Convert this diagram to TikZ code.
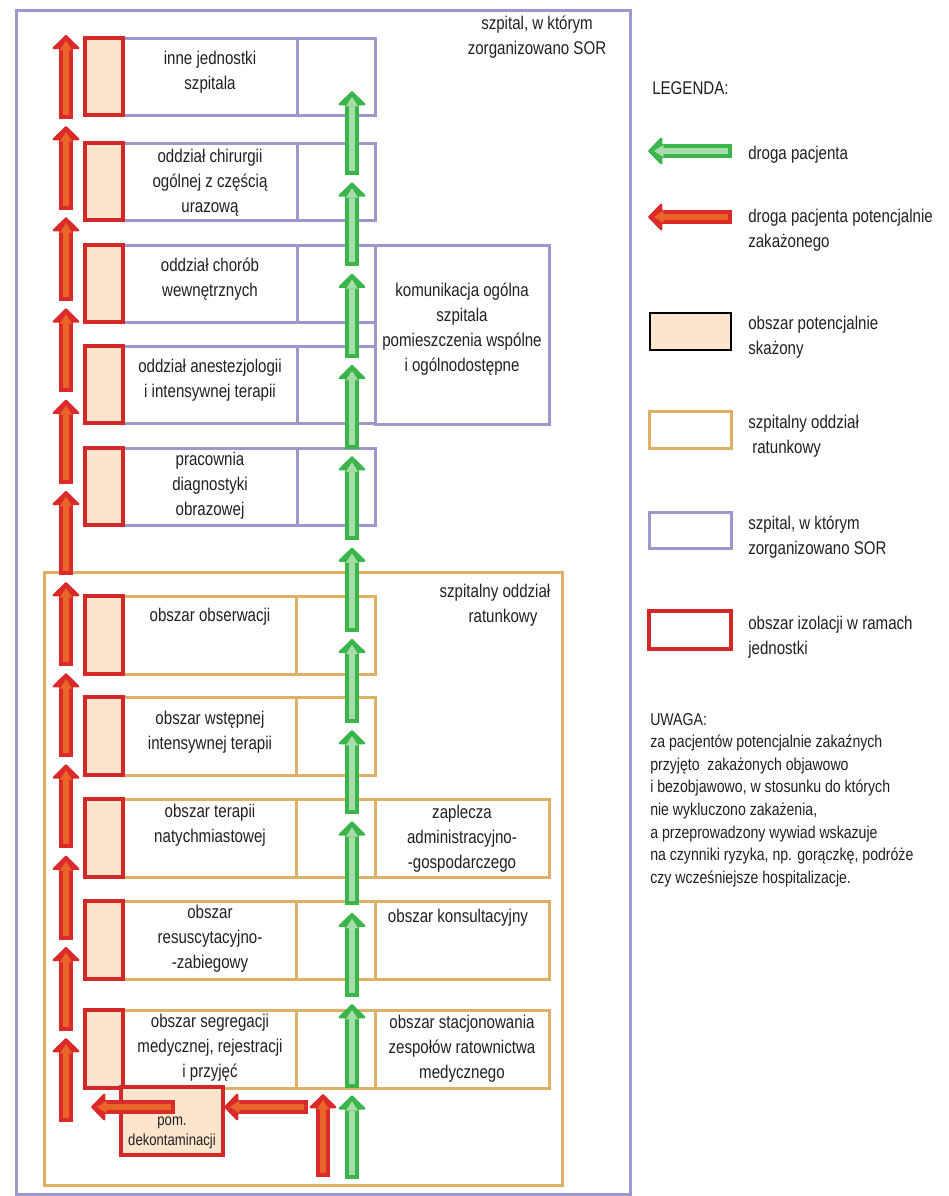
\documentclass[tikz,border=0pt]{standalone}
\usepackage{fontspec}
\setmainfont{Liberation Sans}[FakeStretch=0.82]
\usepackage{tikz}
\usetikzlibrary{arrows.meta}
\usetikzlibrary{positioning}

\definecolor{hospblue}{RGB}{155,153,204}
\definecolor{sortan}{RGB}{222,176,102}
\definecolor{isored}{RGB}{212,40,40}
\definecolor{peach}{RGB}{253,228,204}
\definecolor{flowred}{RGB}{218,42,42}
\definecolor{floworange}{RGB}{234,102,40}
\definecolor{flowgreen}{RGB}{58,181,74}
\definecolor{flowlight}{RGB}{168,220,170}
\definecolor{txt}{RGB}{35,31,32}

\begin{document}
\begin{tikzpicture}[x=0.75pt,y=-0.75pt,
		hosp line/.style={draw=hospblue,line width=2.25pt},
		sor line/.style={draw=sortan,line width=2.25pt},
		iso box/.style={draw=isored,fill=peach,line width=3pt},
		lbl/.style={font=\fontsize{13.8pt}{18.75pt}\selectfont,align=center,text=txt,inner sep=0pt},
		legend text/.style={font=\fontsize{13.8pt}{18.75pt}\selectfont,align=left,text=txt,inner sep=0pt,anchor=west},
		red out/.style={draw=flowred,line width=10.5pt,-{Triangle[width=22pt,length=11pt,line width=1.5pt,round]}},
		red in/.style={draw=floworange,line width=3.8pt,shorten >=4.5pt,shorten <=3pt,-{Triangle[width=9pt,length=7pt,line width=0.3pt]}},
		green out/.style={draw=flowgreen,line width=10.5pt,-{Triangle[width=22pt,length=11pt,line width=1.5pt,round]}},
		green in/.style={draw=flowlight,line width=3.8pt,shorten >=4.5pt,shorten <=3pt,-{Triangle[width=9pt,length=7pt,line width=0.3pt]}}]

		\useasboundingbox (0,0) rectangle (949,1196);

		\draw[hosp line] (16,10) rectangle (630,1194);
		\draw[sor line] (44,572) rectangle (562,1185);

		\foreach \t in {38,143,245,346,448}{
			\draw[hosp line] (85,\t) rectangle (375,\t+77);
			\draw[hosp line] (297,\t) -- (297,\t+77);
			\filldraw[iso box] (85,\t) rectangle (123,\t+77);
		}
		\draw[hosp line] (375,245) rectangle (549,424);

		\foreach \t in {596,697}{
			\draw[sor line] (85,\t) rectangle (375,\t+78);
			\draw[sor line] (296,\t) -- (296,\t+78);
			\filldraw[iso box] (85,\t) rectangle (123,\t+78);
		}
		\foreach \t in {799,901,1010}{
			\draw[sor line] (85,\t) rectangle (549,\t+78);
			\draw[sor line] (296,\t) -- (296,\t+78);
			\draw[sor line] (375,\t) -- (375,\t+78);
			\filldraw[iso box] (85,\t) rectangle (123,\t+78);
		}
		\filldraw[iso box] (121,1087) rectangle (223,1155);

		\node[lbl] (hosptitle) at (537,37) {szpital, w którym\\zorganizowano SOR};
		\node[lbl] (inne) at (210,72) {inne jednostki\\szpitala};
		\node[lbl] (chir) at (210,183) {oddział chirurgii\\ogólnej z częścią\\urazową};
		\node[lbl] (chor) at (210,279) {oddział chorób\\wewnętrznych};
		\node[lbl] (anest) at (210,380) {oddział anestezjologii\\i intensywnej terapii};
		\node[lbl] (diag) at (210,486) {pracownia\\diagnostyki\\obrazowej};
		\node[lbl] (komun) at (462,329) {komunikacja ogólna\\szpitala\\pomieszczenia wspólne\\i ogólnodostępne};

		\node[lbl] (sortitle) at (495,605) {szpitalny oddział\\\hspace*{12pt}ratunkowy};
		\node[lbl] (obs) at (210,617) {obszar obserwacji};
		\node[lbl] (wstep) at (210,732) {obszar wstępnej\\intensywnej terapii};
		\node[lbl] (terap) at (210,825) {obszar terapii\\natychmiastowej};
		\node[lbl] (zapl) at (462,839) {zaplecza\\administracyjno-\\-gospodarczego};
		\node[lbl] (resus) at (210,939) {obszar\\resuscytacyjno-\\-zabiegowy};
		\node[lbl] (kons) at (458,918) {obszar konsultacyjny};
		\node[lbl] (segr) at (210,1048) {obszar segregacji\\medycznej, rejestracji\\i przyjęć};
		\node[lbl] (stacj) at (462,1049) {obszar stacjonowania\\zespołów ratownictwa\\medycznego};
		\node[lbl,font=\fontsize{12pt}{15pt}\selectfont] (dekon) at (172,1133) {pom.\\dekontaminacji};

		\foreach \i in {0,...,11}{
			\coordinate (rb\i) at (66,{1122-91.2*\i});
			\coordinate (rt\i) at (66,{1038-91.2*\i});
			\draw[red out] (rb\i) -- (rt\i);
			\draw[red in] (rb\i) -- (rt\i);
		}
		\foreach \i in {0,...,11}{
			\coordinate (gb\i) at (352,{175+91.3*\i});
			\coordinate (gt\i) at (352,{91+91.3*\i});
			\draw[green out] (gb\i) -- (gt\i);
			\draw[green in] (gb\i) -- (gt\i);
		}

		\coordinate (entry) at (323,1177);
		\coordinate (entrytop) at (323,1094);
		\coordinate (toDekon) at (308,1107);
		\coordinate (atDekon) at (224,1107);
		\coordinate (fromDekon) at (175,1107);
		\coordinate (outDekon) at (91,1107);
		\draw[red out] (entry) -- (entrytop);
		\draw[red in] (entry) -- (entrytop);
		\draw[red out] (toDekon) -- (atDekon);
		\draw[red in] (toDekon) -- (atDekon);
		\draw[red out] (fromDekon) -- (outDekon);
		\draw[red in] (fromDekon) -- (outDekon);

		\node[legend text] (legenda) at (652,88) {LEGENDA:};
		\coordinate (lgA) at (732,151);
		\coordinate (lgB) at (648,151);
		\draw[green out] (lgA) -- (lgB);
		\draw[green in] (lgA) -- (lgB);
		\node[legend text] (lgreen) at (748,155) {droga pacjenta};
		\coordinate (lrA) at (732,217);
		\coordinate (lrB) at (648,217);
		\draw[red out] (lrA) -- (lrB);
		\draw[red in] (lrA) -- (lrB);
		\node[legend text] (lred) at (748,230) {droga pacjenta potencjalnie\\zakażonego};
		\filldraw[draw=black,fill=peach,line width=1.1pt] (650,313) rectangle (731,350);
		\node[legend text] (lpeach) at (748,337) {obszar potencjalnie\\skażony};
		\draw[sor line] (649,411) rectangle (731,448);
		\node[legend text] (lsor) at (748,436) {szpitalny oddział\\\hspace*{3pt}ratunkowy};
		\draw[hosp line] (649,512) rectangle (731,548);
		\node[legend text] (lhosp) at (748,537) {szpital, w którym\\zorganizowano SOR};
		\draw[draw=isored,line width=3pt] (649,611) rectangle (731,649);
		\node[legend text] (liso) at (748,637) {obszar izolacji w ramach\\jednostki};

		\node[legend text,font=\fontsize{12.9pt}{16.9pt}\selectfont] (uwaga) at (650,800) {UWAGA:\\za pacjentów potencjalnie zakaźnych\\przyjęto\ \ zakażonych objawowo\\i bezobjawowo, w stosunku do których\\nie wykluczono zakażenia,\\a przeprowadzony wywiad wskazuje\\na czynniki ryzyka, np. gorączkę, podróże\\czy wcześniejsze hospitalizacje.};
\end{tikzpicture}
\end{document}
